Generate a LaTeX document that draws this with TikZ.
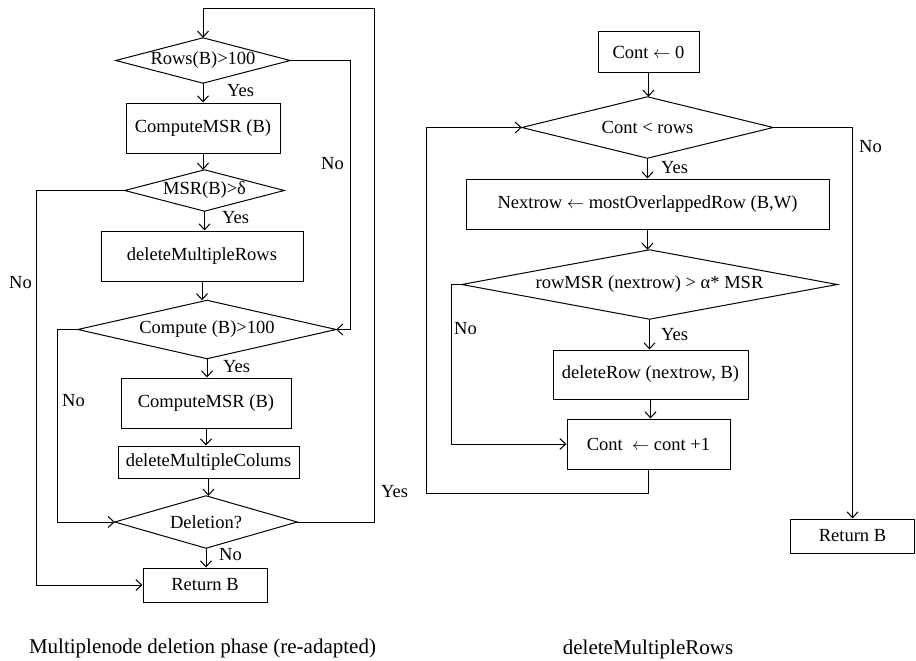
\documentclass[tikz,border=0pt]{standalone}
\usepackage{fontspec}
\setmainfont{Liberation Serif}
\usetikzlibrary{arrows.meta}
\tikzset{
  every node/.style={font=\fontsize{18.5}{22}\selectfont},
  box/.style={draw, rectangle, inner sep=0pt, line width=1pt},
  dia/.style={rectangle, inner sep=0pt, draw=none},
  lbl/.style={anchor=west, inner sep=0pt},
  captext/.style={inner sep=0pt, font=\fontsize{21}{25}\selectfont},
  conn/.style={line width=1pt, -{Straight Barb[length=6pt,width=11pt]}},
}
\newcommand{\drawdia}[1]{\draw[line width=1pt] (#1.north) -- (#1.east) -- (#1.south) -- (#1.west) -- cycle;}
\newcommand{\larr}{$\leftarrow$}
\begin{document}
\begin{tikzpicture}[x=1pt,y=-1pt]
\useasboundingbox (0,0) rectangle (916,661);
% ---------- left flowchart ----------
\node[dia, minimum width=174pt, minimum height=45pt] (R1) at (203,60.5) {Rows(B)>100};
\drawdia{R1}
\node[box, minimum width=154pt, minimum height=50pt] (C1) at (203,128) {ComputeMSR (B)};
\node[dia, minimum width=159pt, minimum height=41pt] (M) at (204.5,190.5) {MSR(B)>δ};
\drawdia{M}
\node[box, minimum width=202pt, minimum height=50pt] (D1) at (202,256) {deleteMultipleRows};
\node[dia, minimum width=258pt, minimum height=58pt] (C2) at (207,329.5) {Compute (B)>100};
\drawdia{C2}
\node[box, minimum width=170pt, minimum height=50pt] (C3) at (206,403) {ComputeMSR (B)};
\node[box, minimum width=181pt, minimum height=32pt] (DC) at (208.5,462) {deleteMultipleColums};
\node[dia, minimum width=182pt, minimum height=52pt] (Del) at (206,522) {Deletion?};
\drawdia{Del}
\node[box, minimum width=124pt, minimum height=34pt] (RB) at (205,585) {Return B};

\draw[conn] (R1.south) -- (R1.south |- C1.north);
\draw[conn] (C1.south) -- (C1.south |- M.north);
\draw[conn] (M.south) -- (M.south |- D1.north);
\draw[conn] (D1.south) -- (D1.south |- C2.north);
\draw[conn] (C2.south) -- (C2.south |- C3.north);
\draw[conn] (C3.south) -- (C3.south |- DC.north);
\draw[conn] (DC.south) -- (DC.south |- Del.north);
\draw[conn] (Del.south) -- (Del.south |- RB.north);

\coordinate (ly) at (374,9);
\draw[conn] (Del.east) -| (ly) -| (R1.north);
\coordinate (rn) at (350,60.5);
\draw[conn] (R1.east) -- (rn) |- (C2.east);
\coordinate (mn) at (36,190.5);
\draw[conn] (M.west) -- (mn) |- (RB.west);
\coordinate (cn) at (57,329.5);
\draw[conn] (C2.west) -- (cn) |- (Del.west);

\node[lbl] (y1) at (227,91) {Yes};
\node[lbl] (n1) at (321,164) {No};
\node[lbl] (y2) at (222,218) {Yes};
\node[lbl] (n2) at (9,283) {No};
\node[lbl] (y3) at (223,367) {Yes};
\node[lbl] (n3) at (62,401) {No};
\node[lbl] (y4) at (381,492) {Yes};
\node[lbl] (n4) at (219,555) {No};
\node[captext] (cap1) at (202.5,648) {Multiplenode deletion phase (re-adapted)};

% ---------- right flowchart ----------
\node[box, minimum width=101pt, minimum height=41pt] (K0) at (648.5,52.5) {Cont \larr{} 0};
\node[dia, minimum width=251pt, minimum height=61pt] (CR) at (647.5,127.5) {Cont < rows};
\drawdia{CR}
\node[box, minimum width=363pt, minimum height=50pt] (NR) at (647.5,204) {Nextrow \larr{} mostOverlappedRow (B,W)};
\node[dia, minimum width=375pt, minimum height=69pt] (RM) at (649.5,284.5) {rowMSR (nextrow) > α* MSR};
\drawdia{RM}
\node[box, minimum width=195pt, minimum height=49pt] (DR) at (650.5,374.5) {deleteRow (nextrow, B)};
\node[box, minimum width=163pt, minimum height=50pt] (CC) at (648.5,444) {Cont~ \larr{} cont +1};
\node[box, minimum width=124pt, minimum height=34pt] (RB2) at (852.5,536) {Return B};

\draw[conn] (K0.south) -- (K0.south |- CR.north);
\draw[conn] (CR.south) -- (CR.south |- NR.north);
\draw[conn] (NR.south) -- (NR.south |- RM.north);
\draw[conn] (RM.south) -- (RM.south |- DR.north);
\draw[conn] (DR.south) -- (DR.south |- CC.north);

\coordinate (rl) at (426,493);
\draw[conn] (CC.south) |- (rl) |- (CR.west);
\draw[conn] (CR.east) -| (RB2.north);
\coordinate (rmn) at (451,284.5);
\draw[conn] (RM.west) -- (rmn) |- (CC.west);

\node[lbl] (y5) at (661,168) {Yes};
\node[lbl] (n5) at (859,147) {No};
\node[lbl] (n6) at (454,329) {No};
\node[lbl] (y6) at (661,335) {Yes};
\node[captext] (cap2) at (648,649) {deleteMultipleRows};
\end{tikzpicture}
\end{document}
